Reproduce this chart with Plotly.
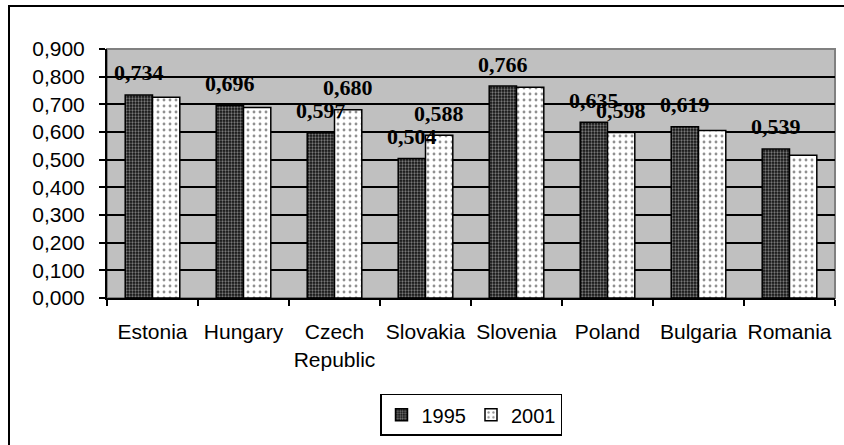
import plotly.graph_objects as go

countries = ["Estonia", "Hungary", "Czech<br>Republic", "Slovakia", "Slovenia", "Poland", "Bulgaria", "Romania"]
v1995 = [0.734, 0.696, 0.597, 0.504, 0.766, 0.635, 0.619, 0.539]
v2001 = [0.726, 0.689, 0.680, 0.588, 0.762, 0.598, 0.605, 0.516]
show_1995 = [True, True, True, True, True, True, True, True]
show_2001 = [False, False, True, True, False, True, False, False]
yticks = [0.0, 0.1, 0.2, 0.3, 0.4, 0.5, 0.6, 0.7, 0.8, 0.9]

W, H = 844, 445
ML, MR, MT, MB = 107, 9, 49, 147

fig = go.Figure()
fig.add_trace(go.Bar(
    name="1995", x=countries, y=v1995,
    marker=dict(color="#111111", line=dict(color="black", width=1.5),
                pattern=dict(shape=".", bgcolor="#111111", fgcolor="#e0e0e0", size=3, solidity=0.45)),
))
fig.add_trace(go.Bar(
    name="2001", x=countries, y=v2001,
    marker=dict(color="white", line=dict(color="black", width=1.5),
                pattern=dict(shape=".", bgcolor="white", fgcolor="#222222", size=6, solidity=0.18)),
))

label_font = dict(family="Liberation Serif, Times New Roman, serif", size=22, color="black", weight="bold")
annotations = []
for i, (v, s) in enumerate(zip(v1995, show_1995)):
    if s:
        annotations.append(dict(x=i - 0.15, y=v, xref="x", yref="y", text=f"{v:.3f}".replace(".", ","),
                                showarrow=False, font=label_font, yanchor="middle", yshift=22, xanchor="center"))
for i, (v, s) in enumerate(zip(v2001, show_2001)):
    if s:
        annotations.append(dict(x=i + 0.15, y=v, xref="x", yref="y", text=f"{v:.3f}".replace(".", ","),
                                showarrow=False, font=label_font, yanchor="middle", yshift=22, xanchor="center"))

pw = W - ML - MR
ph = H - MT - MB
shapes = [
    dict(type="rect", xref="paper", yref="paper", x0=0, x1=1, y0=0, y1=1,
         line=dict(color="#808080", width=2), layer="below"),
    dict(type="rect", xref="paper", yref="paper",
         x0=(9 - ML) / pw, x1=(W + 20 - ML) / pw,
         y0=-(H + 20 - (MT + ph)) / ph, y1=(MT + ph - 6) / ph,
         line=dict(color="black", width=2), layer="above"),
]

fig.update_layout(
    width=W, height=H,
    margin=dict(l=ML, r=MR, t=MT, b=MB, autoexpand=False),
    paper_bgcolor="white",
    plot_bgcolor="#c0c0c0",
    barmode="group",
    bargap=0.4,
    bargroupgap=0,
    separators=", ",
    font=dict(family="Liberation Sans, Arial, sans-serif", size=21, color="black"),
    showlegend=True,
    legend=dict(orientation="h", x=0.5, xanchor="center", y=-0.385, yanchor="top",
                bordercolor="black", borderwidth=1.5, bgcolor="white",
                font=dict(size=20), itemwidth=30, traceorder="normal"),
    annotations=annotations,
    shapes=shapes,
    xaxis=dict(showgrid=False, tickson="boundaries", ticks="outside", ticklen=6, tickwidth=1.5,
               tickcolor="black", showline=True, linecolor="black", linewidth=2,
               tickfont=dict(size=21), ticklabelstandoff=14, tickangle=0, automargin=False),
    yaxis=dict(range=[0, 0.9], tickvals=yticks, tickformat=".3f", ticks="outside", ticklen=6,
               tickwidth=1.5, tickcolor="black", showline=True, linecolor="black", linewidth=2,
               showgrid=True, gridcolor="black", gridwidth=1.5, zeroline=False,
               tickfont=dict(size=21), ticklabelstandoff=10, automargin=False),
)

fig.write_html("out.html", config={"displayModeBar": False},
               post_script="document.body.style.margin='0';document.body.style.overflow='hidden';")
